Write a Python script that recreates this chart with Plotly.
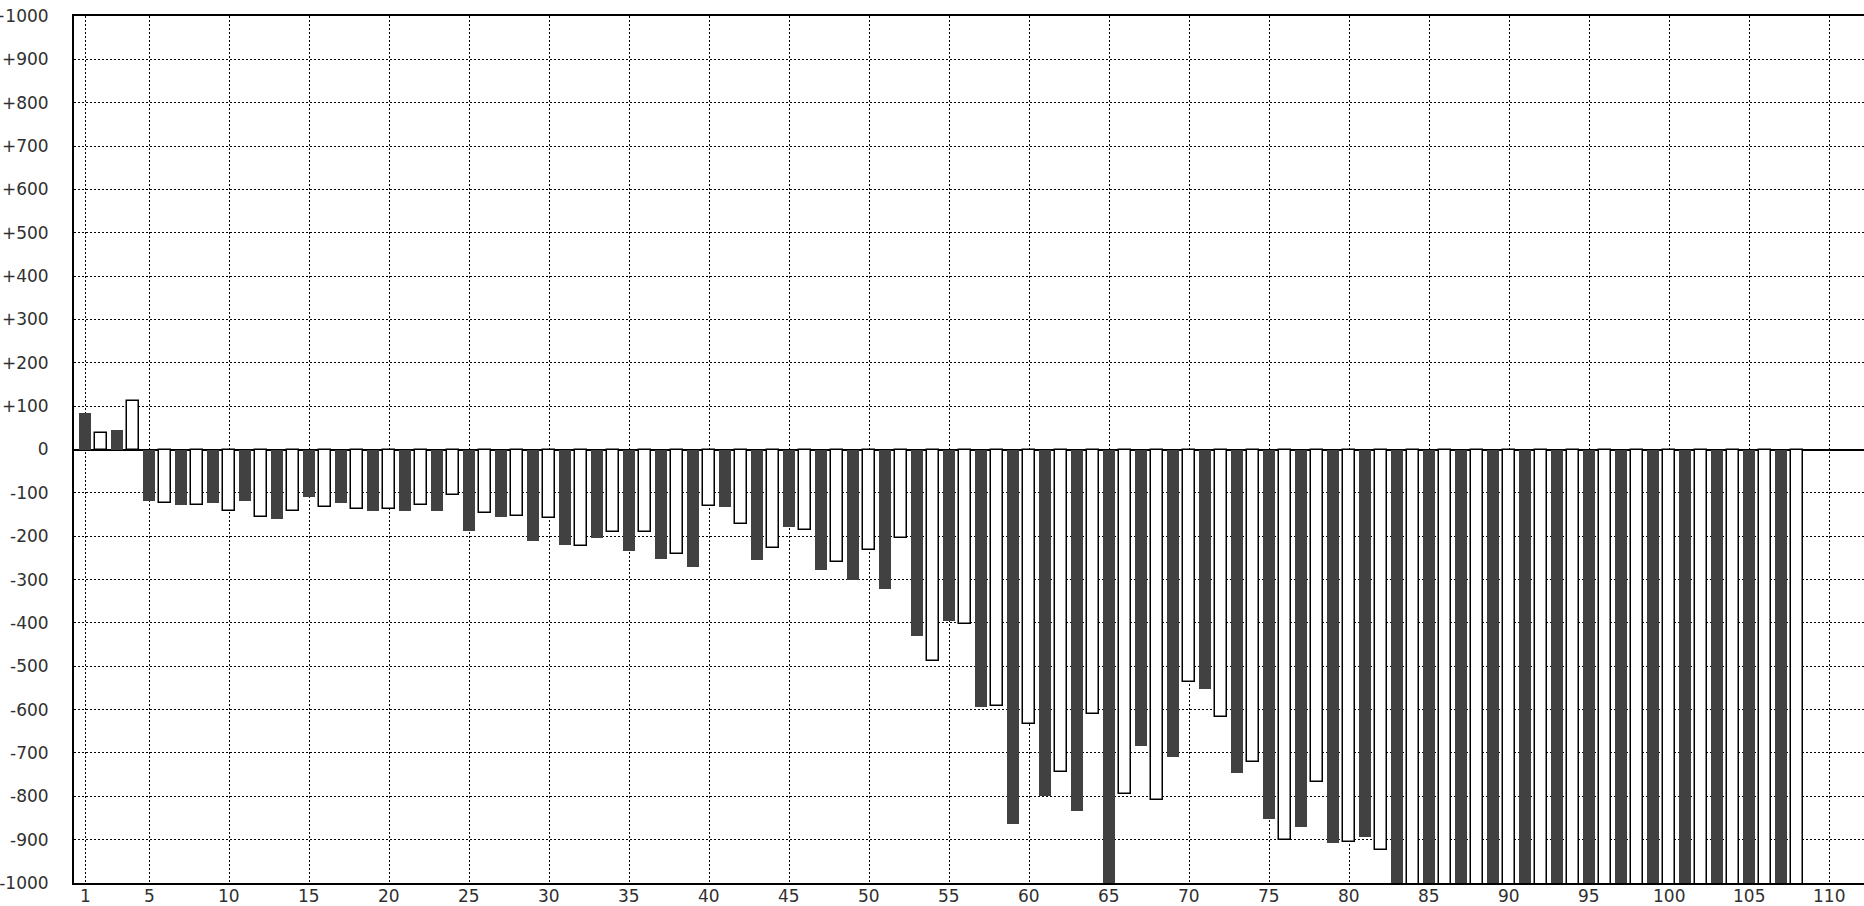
import plotly.graph_objects as go

# ---- data ----
bar_index = list(range(1, 109))
values = [
    85, 37, 44, 112, -119, -123, -128, -127, -124, -142,
    -119, -155, -161, -142, -110, -133, -124, -137, -143, -137,
    -143, -128, -143, -104, -189, -146, -155, -153, -210, -158,
    -220, -223, -205, -191, -234, -191, -252, -242, -270, -130,
    -132, -172, -256, -227, -178, -185, -279, -260, -302, -231,
    -321, -204, -431, -489, -395, -402, -593, -591, -865, -633,
    -800, -743, -833, -610, -1100, -794, -685, -808, -709, -537,
    -553, -616, -746, -721, -852, -900, -871, -767, -907, -905,
    -893, -923, -1100, -1100, -1100, -1100, -1100, -1100, -1100, -1100,
    -1100, -1100, -1100, -1100, -1100, -1100, -1100, -1100, -1100, -1100,
    -1100, -1100, -1100, -1100, -1100, -1100, -1100, -1100,
]
x_tickvals = [1, 5, 10, 15, 20, 25, 30, 35, 40, 45, 50, 55,
              60, 65, 70, 75, 80, 85, 90, 95, 100, 105, 110]
y_tickvals = [1000, 900, 800, 700, 600, 500, 400, 300, 200, 100, 0,
              -100, -200, -300, -400, -500, -600, -700, -800, -900, -1000]
y_ticktext = ["+1000", "+900", "+800", "+700", "+600", "+500", "+400", "+300",
              "+200", "+100", "0", "-100", "-200", "-300", "-400", "-500",
              "-600", "-700", "-800", "-900", "-1000"]

# alternating style: odd bars dark filled, even bars white with outline
fill = ["#414141" if i % 2 == 1 else "#ffffff" for i in bar_index]
edge_w = [0 if i % 2 == 1 else 1.5 for i in bar_index]

fig = go.Figure(go.Bar(
    x=bar_index, y=values, width=0.75,
    marker=dict(color=fill, line=dict(color="#000000", width=edge_w)),
    hoverinfo="x+y",
))

font = dict(family="DejaVu Sans", size=17, color="#303030")

# x tick labels placed just under the axis line
x_labels = [
    dict(x=v, y=0, xref="x", yref="paper", text=str(v), showarrow=False,
         xanchor="center", yanchor="top", yshift=-1, font=font)
    for v in x_tickvals
]

fig.update_layout(
    width=1864, height=906,
    margin=dict(l=74, r=0, t=16, b=23, pad=0, autoexpand=False),
    paper_bgcolor="white", plot_bgcolor="white",
    showlegend=False, bargap=0,
    font=font,
    annotations=x_labels,
)
fig.update_xaxes(
    range=[0.3125, 112.1875], tickvals=x_tickvals,
    showticklabels=False,
    showgrid=True, gridcolor="#000000", gridwidth=1, griddash="2px,2px",
    showline=True, linecolor="#000000", linewidth=2, mirror=True,
    ticks="", zeroline=False,
    automargin=False,
)
fig.update_yaxes(
    range=[-1000, 1000], tickvals=y_tickvals, ticktext=y_ticktext,
    showgrid=True, gridcolor="#000000", gridwidth=1, griddash="2px,2px",
    showline=True, linecolor="#000000", linewidth=2,
    zeroline=True, zerolinecolor="#000000", zerolinewidth=1.5,
    ticks="", tickfont=font, ticklabelstandoff=20,
    automargin=False,
)

fig.write_html("out.html", config={"displayModeBar": False},
               post_script="document.body.style.margin='0';")
